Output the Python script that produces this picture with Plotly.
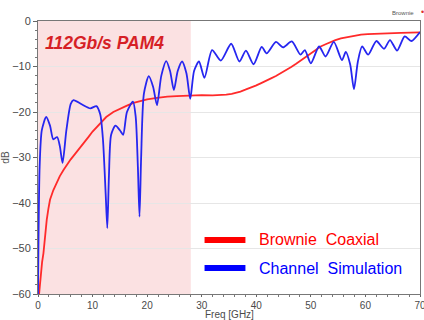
import plotly.graph_objects as go

# Channel Simulation (blue)
blue_x = [0, 0.3, 0.7, 1.5, 2.2, 2.8, 3.5, 4.0, 4.5, 5.2, 6.0, 6.5, 8.0, 9.6, 10.7, 11.4, 11.9, 12.4, 12.7, 13.0,
          13.4, 14.2, 15.0, 15.6, 16.3, 17.4, 17.9, 18.3, 18.6, 18.9, 19.4, 20.3, 21.1, 21.8, 22.6, 23.5, 24.2,
          24.9, 25.6, 26.4, 27.2, 27.9, 28.6, 29.5, 30.5, 31.9, 33.5, 35.4, 36.9, 38.1, 39.5, 41.0, 41.9, 43.6,
          44.9, 46.5, 48.1, 48.9, 50.0, 51.5, 52.7, 54.2, 55.7, 56.4, 57.2, 57.9, 58.6, 59.4, 60.5, 62.0, 63.4,
          64.5, 65.8, 67.2, 68.4, 70.0]
blue_y = [-60, -32, -24, -21.1, -23, -26, -25.5, -27.5, -31.2, -24, -18.2, -17.4, -18.3, -19.2, -18.7, -20.5,
          -26, -38, -45.5, -34, -25, -23, -24, -25, -20, -17.7, -21, -32, -43, -30, -16, -12.1, -14.5, -18.5,
          -12, -8.8, -11, -15.2, -11, -8.9, -11.5, -17.1, -11, -8.9, -12.5, -6.4, -8.7, -5.0, -8.9, -6.5, -9.5,
          -5.7, -7.1, -4.6, -5.8, -4.5, -7.4, -6.4, -9.3, -5.6, -7.8, -4.6, -8.6, -6.8, -9.5, -15.0, -9.0, -5.6,
          -7.4, -4.4, -6.1, -4.2, -6.5, -3.4, -4.4, -2.4]

# Brownie Coaxial (red)
red_x = [0.2, 0.35, 0.5, 0.75, 1.0, 1.3, 1.6, 1.9, 2.2, 2.8, 3.4, 4.0, 4.7, 5.4, 6.0, 6.8, 7.7, 8.5, 9.3, 10.0,
         10.8, 11.6, 12.5, 13.8, 15.1, 16.3, 17.5, 18.8, 20.0, 21.8, 23.7, 25.4, 27.0, 30.0, 32.0, 33.5, 34.5,
         35.5, 36.3, 37.1, 38.0, 39.0, 39.9, 40.8, 41.8, 42.7, 43.6, 44.5, 45.5, 46.4, 47.3, 48.2, 49.1, 50.0,
         50.9, 51.8, 52.7, 53.6, 54.5, 55.5, 56.7, 58.0, 59.2, 60.4, 61.7, 63.0, 64.8, 66.5, 68.2, 70.0]
red_y = [-60, -57.5, -55.4, -53, -51, -47, -43.7, -41.3, -39.3, -37.2, -35.6, -34.1, -32.7, -31.4, -30.4, -29.2,
         -27.9, -26.6, -25.4, -24.3, -23.2, -22.1, -21.1, -20.0, -19.2, -18.6, -18.0, -17.6, -17.2, -16.9, -16.6,
         -16.5, -16.4, -16.3, -16.35, -16.3, -16.2, -16.0, -15.8, -15.5, -15.1, -14.7, -14.2, -13.7, -13.2, -12.6,
         -12.1, -11.5, -10.8, -10.1, -9.4, -8.6, -7.8, -7.0, -6.3, -5.6, -5.1, -4.6, -4.2, -3.8, -3.5, -3.2, -3.0,
         -2.9, -2.8, -2.7, -2.65, -2.6, -2.55, -2.5]

x_ticks = [0, 10, 20, 30, 40, 50, 60, 70]
y_ticks = [0, -10, -20, -30, -40, -50, -60]
shade_range = [0, 28]

fig = go.Figure()
fig.add_trace(go.Scatter(x=red_x, y=red_y, mode="lines", line=dict(color="#ff2a2a", width=1.8),
                         name="Brownie Coaxial", showlegend=False))
fig.add_trace(go.Scatter(x=blue_x, y=blue_y, mode="lines",
                         line=dict(color="#2626f0", width=1.8, shape="spline", smoothing=0.7),
                         name="Channel Simulation", showlegend=False))

fig.add_shape(type="rect", xref="x", yref="y", x0=shade_range[0], x1=shade_range[1], y0=-60, y1=0,
              fillcolor="#fbe1e2", line=dict(width=0), layer="below")

# legend swatches
fig.add_shape(type="line", xref="paper", yref="paper", x0=0.436, x1=0.543, y0=0.198, y1=0.198,
              line=dict(color="#ff0000", width=6))
fig.add_shape(type="line", xref="paper", yref="paper", x0=0.436, x1=0.543, y0=0.095, y1=0.095,
              line=dict(color="#0000ff", width=6))
fig.add_annotation(text="Brownie  Coaxial", xref="paper", yref="paper", x=0.573, y=0.198, xanchor="left",
                   yanchor="middle", showarrow=False, font=dict(family="Arial, Liberation Sans", size=16, color="#ff0000"))
fig.add_annotation(text="Channel  Simulation", xref="paper", yref="paper", x=0.573, y=0.095, xanchor="left",
                   yanchor="middle", showarrow=False, font=dict(family="Arial, Liberation Sans", size=16, color="#0000ff"))

fig.add_annotation(text="<b><i>112Gb/s PAM4</i></b>", xref="paper", yref="paper", x=0.014, y=0.919,
                   xanchor="left", yanchor="middle", showarrow=False,
                   font=dict(family="Arial, Liberation Sans", size=17.5, color="#d61f26"))

# tiny top-right legend remnant
fig.add_annotation(text="Brownie", xref="paper", yref="paper", x=0.955, y=1.03, xanchor="center",
                   yanchor="middle", showarrow=False, font=dict(family="Arial, Liberation Sans", size=6, color="#555"))
fig.add_annotation(text="•", xref="paper", yref="paper", x=1.007, y=1.033, xanchor="center",
                   yanchor="middle", showarrow=False, font=dict(family="Arial, Liberation Sans", size=9, color="#e03030"))

# x-axis title placed at the very bottom
fig.add_annotation(text="Freq [GHz]", xref="paper", yref="paper", x=0.5, y=-27 / 273, xanchor="center",
                   yanchor="bottom", showarrow=False, borderpad=0,
                   font=dict(family="Arial, Liberation Sans", size=10, color="#4a4a4a"))

axis_font = dict(family="Arial, Liberation Sans", size=10, color="#4a4a4a")
fig.update_layout(
    width=424, height=320,
    margin=dict(l=38, r=4, t=21, b=26, autoexpand=False),
    paper_bgcolor="white", plot_bgcolor="white",
    xaxis=dict(range=[0, 70], tickvals=x_ticks, ticks="outside", ticklen=2, tickcolor="#666",
               showline=True, linecolor="#777", mirror=True, showgrid=False, zeroline=False,
               tickfont=axis_font, ticklabeloverflow="allow", automargin=False,
               minor=dict(dtick=2, ticks="outside", ticklen=2, tickcolor="#777")),
    yaxis=dict(range=[-60, 0], tickvals=y_ticks, ticks="outside", ticklen=4, tickcolor="#666",
               showline=True, linecolor="#777", mirror=True, showgrid=True, gridcolor="#e6e6e6",
               zeroline=False, tickfont=dict(family="Arial, Liberation Sans", size=11, color="#4a4a4a"),
               automargin=False,
               minor=dict(dtick=2, ticks="outside", ticklen=2, tickcolor="#777", showgrid=False),
               title=dict(text="dB", font=dict(family="Arial, Liberation Sans", size=10, color="#555"), standoff=2)),
)

fig.write_html("out.html")
